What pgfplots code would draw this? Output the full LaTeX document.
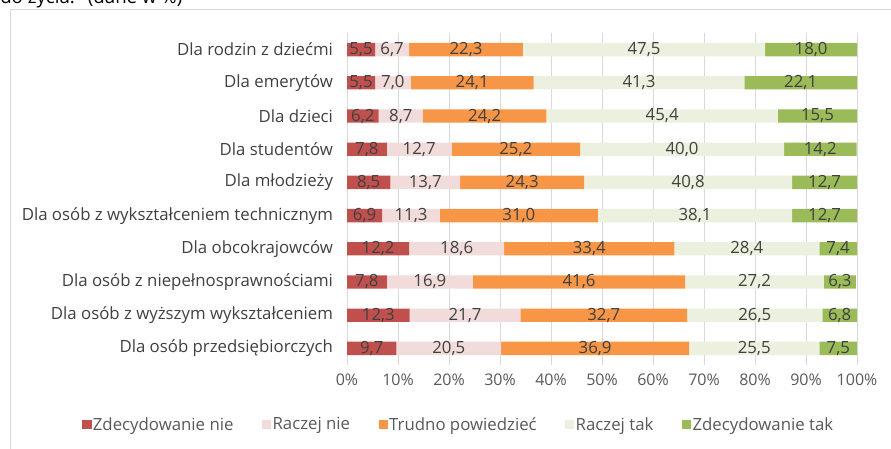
\documentclass[border=0pt]{standalone}
\usepackage{pgfplots}
\usepackage{pgfplotstable}
\pgfplotsset{compat=1.18}
\usepackage{fontspec}
\setmainfont{Open Sans}
\definecolor{cA}{HTML}{C0504D}
\definecolor{cB}{HTML}{F2DCDB}
\definecolor{cC}{HTML}{F79646}
\definecolor{cD}{HTML}{EBF1DE}
\definecolor{cE}{HTML}{9BBB59}
\definecolor{txt}{HTML}{404040}
\definecolor{tick}{HTML}{595959}
\definecolor{grd}{HTML}{D9D9D9}
\pgfplotstableread{
y a b c d e
9 5.5 6.7 22.3 47.5 18.0
8 5.5 7.0 24.1 41.3 22.1
7 6.2 8.7 24.2 45.4 15.5
6 7.8 12.7 25.2 40.0 14.2
5 8.5 13.7 24.3 40.8 12.7
4 6.9 11.3 31.0 38.1 12.7
3 12.2 18.6 33.4 28.4 7.4
2 7.8 16.9 41.6 27.2 6.3
1 12.3 21.7 32.7 26.5 6.8
0 9.7 20.5 36.9 25.5 7.5
}\data
\pgfplotstablecreatecol[create col/expr={\thisrow{a}/2}]{ma}\data
\pgfplotstablecreatecol[create col/expr={\thisrow{a}+\thisrow{b}/2}]{mb}\data
\pgfplotstablecreatecol[create col/expr={\thisrow{a}+\thisrow{b}+\thisrow{c}/2}]{mc}\data
\pgfplotstablecreatecol[create col/expr={\thisrow{a}+\thisrow{b}+\thisrow{c}+\thisrow{d}/2}]{md}\data
\pgfplotstablecreatecol[create col/expr={\thisrow{a}+\thisrow{b}+\thisrow{c}+\thisrow{d}+\thisrow{e}/2}]{me}\data
\newcommand{\lf}{\fontsize{12.6pt}{14pt}\selectfont}
\pgfplotsset{
  base/.style={
    at={(260.25pt,63pt)}, anchor=south west,
    scale only axis, width=382.5pt, height=249pt,
    xmin=0, xmax=100, ymin=-0.5, ymax=9.5,
    axis line style={draw=none},
    major tick length=0pt,
    /pgf/number format/assume math mode=true,
  }
}
\begin{document}
\begin{tikzpicture}
\useasboundingbox (0,0) rectangle (668.25pt,336.75pt);
\draw[grd, line width=0.75pt] (7.5pt,0) -- (7.5pt,329.25pt) -- (680pt,329.25pt);
\node[anchor=base west, inner sep=0pt, font=\fontsize{14pt}{16pt}\selectfont, text=black] at (0pt,333.75pt) {do życia.” (dane w \%)};
\begin{axis}[base,
  xbar stacked, bar width=10pt,
  xmajorgrids, grid style={grd, line width=0.75pt},
  xtick={0,10,...,100},
  xticklabel={\pgfmathprintnumber{\tick}\%},
  xticklabel style={font=\fontsize{12pt}{14pt}\selectfont, text=tick, yshift=-3pt},
  ytick={0,...,9},
  yticklabels={Dla osób przedsiębiorczych, Dla osób z wyższym wykształceniem, Dla osób z niepełnosprawnościami, Dla obcokrajowców, Dla osób z wykształceniem technicznym, Dla młodzieży, Dla studentów, Dla dzieci, Dla emerytów, Dla rodzin z dziećmi},
  yticklabel style={font=\lf, text=txt, xshift=-7pt},
  legend style={at={(0.22,-0.18)}, anchor=center, draw=none, legend columns=5,
    font=\lf, text=tick, inner sep=0pt,
    /tikz/every odd column/.append style={column sep=-1pt},
    /tikz/every even column/.append style={column sep=19.5pt}},
  legend image code/.code={\fill[#1] (0pt,-3.4pt) rectangle (6.8pt,3.4pt);},
]
\addplot[fill=cA, draw=none] table[x=a, y=y]{\data};
\addplot[fill=cB, draw=none] table[x=b, y=y]{\data};
\addplot[fill=cC, draw=none] table[x=c, y=y]{\data};
\addplot[fill=cD, draw=none] table[x=d, y=y]{\data};
\addplot[fill=cE, draw=none] table[x=e, y=y]{\data};
\legend{Zdecydowanie nie, Raczej nie, Trudno powiedzieć, Raczej tak, Zdecydowanie tak}
\end{axis}
\begin{axis}[base, ticks=none,
  nodes near coords={\pgfmathprintnumber[fixed,fixed zerofill,precision=1,use comma]{\pgfplotspointmeta}},
  every node near coord/.append style={anchor=center, font=\lf, text=txt, inner sep=0pt},
  point meta=explicit,
]
\addplot[draw=none, mark=none, only marks] table[x=ma, y=y, meta=a]{\data};
\addplot[draw=none, mark=none, only marks] table[x=mb, y=y, meta=b]{\data};
\addplot[draw=none, mark=none, only marks] table[x=mc, y=y, meta=c]{\data};
\addplot[draw=none, mark=none, only marks] table[x=md, y=y, meta=d]{\data};
\addplot[draw=none, mark=none, only marks] table[x=me, y=y, meta=e]{\data};
\end{axis}
\end{tikzpicture}
\end{document}
